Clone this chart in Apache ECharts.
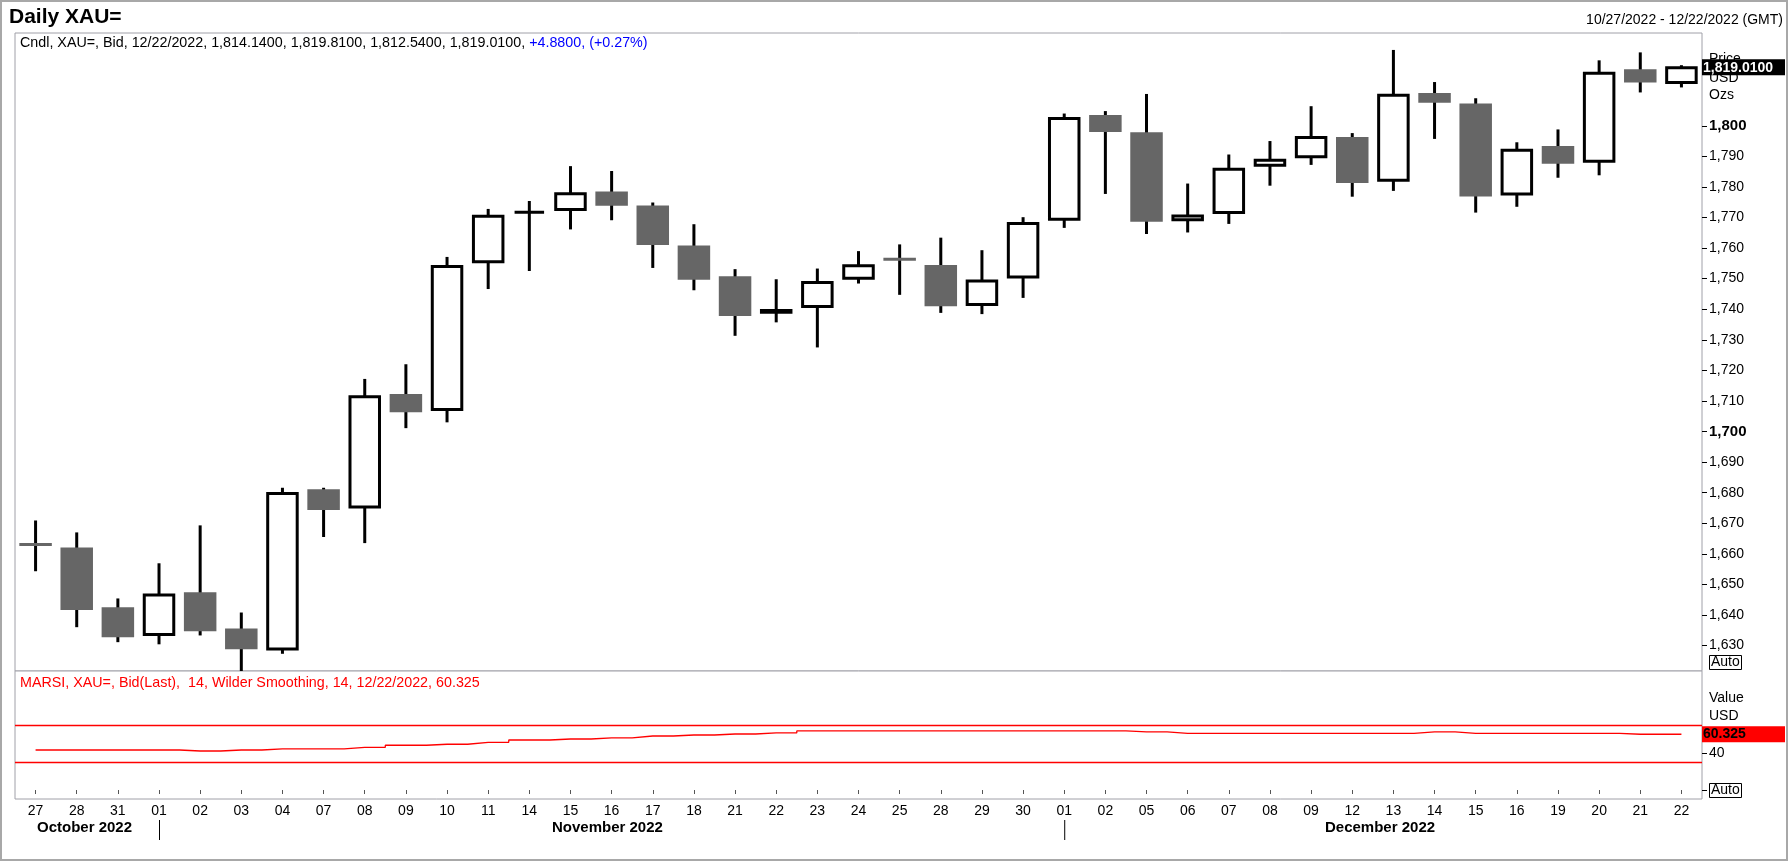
<!DOCTYPE html>
<html>
<head>
<meta charset="utf-8">
<script src="https://cdn.jsdelivr.net/npm/echarts@6/dist/echarts.min.js"></script>
<style>
  html, body { margin: 0; padding: 0; background: #fff; }
  #chart { width: 1788px; height: 862px; }
</style>
</head>
<body>
<div id="chart"></div>
<script>
// daily gold candles, 27 Oct - 22 Dec 2022
var days = ['27','28','31','01','02','03','04','07','08','09','10','11','14','15','16','17','18','21','22','23','24','25',
            '28','29','30','01','02','05','06','07','08','09','12','13','14','15','16','19','20','21','22'];
var monthNames = ['October 2022', 'November 2022', 'December 2022'];
var monthFirstIdx = [0, 3, 25];

var opens  = [1663.2,1662.1,1642.5,1633.6,1647.4,1635.6,1628.9,1681.1,1675.3,1712.3,1707.2,1755.5,1771.7,1772.6,1778.5,1773.9,1760.8,1750.8,1739.0,1740.9,1750.1,1756.4,
              1754.5,1741.5,1750.5,1769.4,1803.5,1797.9,1769.3,1771.6,1787.1,1789.9,1796.3,1782.2,1810.7,1807.3,1777.7,1793.4,1788.4,1818.5,1814.14];
var highs  = [1670.9,1667.0,1645.4,1656.9,1669.3,1640.8,1681.6,1681.6,1717.2,1722.0,1757.1,1772.8,1775.4,1786.8,1785.2,1774.9,1767.8,1753.1,1749.8,1753.3,1759.0,1761.2,
              1763.4,1759.3,1770.1,1804.0,1804.8,1810.4,1781.1,1790.6,1795.0,1806.4,1797.6,1824.8,1814.3,1809.0,1794.6,1798.8,1821.4,1824.0,1819.81];
var lows   = [1654.3,1636.0,1631.1,1630.4,1633.3,1620.5,1627.3,1665.5,1663.5,1701.1,1703.0,1746.6,1752.5,1766.1,1769.1,1753.5,1746.2,1731.3,1735.7,1727.5,1748.4,1744.7,
              1738.8,1738.4,1743.7,1766.6,1777.7,1764.6,1765.1,1767.9,1780.4,1787.2,1776.8,1778.7,1795.7,1771.6,1773.5,1783.0,1783.8,1810.9,1812.54];
var closes = [1662.9,1641.6,1632.7,1646.5,1634.7,1628.8,1679.7,1674.3,1711.4,1706.3,1754.0,1770.4,1771.7,1777.8,1773.8,1761.0,1749.6,1737.8,1739.6,1748.7,1754.2,1756.2,
              1741.0,1749.2,1768.0,1802.4,1798.0,1768.6,1770.5,1785.8,1788.7,1796.2,1781.3,1810.0,1807.5,1776.9,1792.0,1787.6,1817.2,1814.13,1819.01];

// moving average RSI (14, Wilder)
var rsi = [43.3,43.3,43.3,43.3,42.2,43.3,44.4,44.4,46.2,48.4,49.5,51.6,54.1,55.2,56.3,58.4,59.5,60.6,61.7,63.9,63.9,63.9,
           63.9,63.9,63.9,63.9,63.9,62.8,61.3,61.3,61.3,61.3,61.3,61.3,62.8,61.3,61.3,61.3,61.3,60.3,60.325];
var rsiBands = [70, 30];

var priceTicks = [1630,1640,1650,1660,1670,1680,1690,1700,1710,1720,1730,1740,1750,1760,1770,1780,1790,1800];
var rsiLabelTicks = [40];
var rsiTickMarks = [0, 40];

var FONT = '"Liberation Sans", Arial, sans-serif';
var GRAY = '#666666';
var FRAME = '#a0a0a8';

var candleData = days.map(function (d, i) {
  return [i, opens[i], closes[i], lows[i], highs[i]];
});

function fmt(v) {
  return v.toLocaleString('en-US');
}

function renderCandle(params, api) {
  var i = api.value(0);
  var o = api.value(1), c = api.value(2), l = api.value(3), h = api.value(4);
  var pO = api.coord([i, o]), pC = api.coord([i, c]);
  var pH = api.coord([i, h]), pL = api.coord([i, l]);
  var w = api.size([1, 0])[0] * 0.79;
  var x = pO[0];
  var top = Math.min(pO[1], pC[1]), bot = Math.max(pO[1], pC[1]);
  var kids = [{
    type: 'line',
    shape: { x1: x, y1: pH[1], x2: x, y2: pL[1] },
    style: { stroke: '#000', lineWidth: 3 }
  }];
  if (c >= o) {
    kids.push({
      type: 'rect',
      shape: { x: x - w / 2 + 1.5, y: top, width: w - 3, height: bot - top },
      style: { fill: '#fff', stroke: '#000', lineWidth: 3 }
    });
  } else if (bot - top < 2) {
    var ym = (top + bot) / 2;
    kids.push({
      type: 'line',
      shape: { x1: x - w / 2, y1: ym, x2: x + w / 2, y2: ym },
      style: { stroke: GRAY, lineWidth: 3 }
    });
  } else {
    kids.push({
      type: 'rect',
      shape: { x: x - w / 2, y: top, width: w, height: bot - top },
      style: { fill: GRAY }
    });
  }
  return { type: 'group', children: kids };
}

var chart = echarts.init(document.getElementById('chart'));

var option = {
  animation: false,
  grid: [
    { left: 15, right: 86, top: 33, height: 638, show: true, borderColor: FRAME, borderWidth: 1, backgroundColor: '#fff' },
    { left: 15, right: 86, top: 671, height: 128, show: true, borderColor: FRAME, borderWidth: 1, backgroundColor: '#fff' }
  ],
  xAxis: [
    {
      type: 'category', gridIndex: 0, data: days, boundaryGap: true,
      axisLine: { show: false }, axisTick: { show: false }, axisLabel: { show: false }, splitLine: { show: false }
    },
    {
      type: 'category', gridIndex: 1, data: days, boundaryGap: true,
      axisLine: { show: false },
      axisTick: { show: true, alignWithLabel: true, length: 4, lineStyle: { color: '#555' } },
      axisLabel: { interval: 0, margin: 5, color: '#000', fontSize: 14, fontFamily: FONT },
      splitLine: { show: false }
    }
  ],
  yAxis: [
    {
      type: 'value', gridIndex: 0, position: 'right', min: 1621.67, max: 1830.34, scale: true,
      axisLine: { show: false },
      axisTick: { show: true, length: 5, customValues: priceTicks, lineStyle: { color: '#000' } },
      axisLabel: {
        customValues: priceTicks, margin: 7, color: '#000', fontSize: 14, fontFamily: FONT,
        formatter: function (v) {
          var s = fmt(v);
          return v % 100 === 0 ? '{b|' + s + '}' : s;
        },
        rich: { b: { fontWeight: 'bold', fontSize: 15, fontFamily: FONT, color: '#000' } }
      },
      splitLine: { show: false }
    },
    {
      type: 'value', gridIndex: 1, position: 'right', min: -9.7, max: 128.7,
      axisLine: { show: false },
      axisTick: { show: true, length: 5, customValues: rsiTickMarks, lineStyle: { color: '#000' } },
      axisLabel: { customValues: rsiLabelTicks, margin: 7, color: '#000', fontSize: 14, fontFamily: FONT },
      splitLine: { show: false }
    }
  ],
  series: [
    {
      type: 'custom',
      name: 'XAU=',
      xAxisIndex: 0, yAxisIndex: 0,
      clip: true,
      renderItem: renderCandle,
      encode: { x: 0, y: [1, 2, 3, 4] },
      data: candleData
    },
    {
      type: 'line',
      name: 'MARSI',
      xAxisIndex: 1, yAxisIndex: 1,
      data: rsi,
      step: 'middle',
      symbol: 'none',
      lineStyle: { color: '#ff0000', width: 1.3 },
      markLine: {
        silent: true,
        symbol: 'none',
        label: { show: false },
        lineStyle: { color: '#ff0000', width: 1.3, type: 'solid' },
        data: rsiBands.map(function (b) { return { yAxis: b }; })
      }
    }
  ]
};
chart.setOption(option);

// overlay texts placed from the axes
var lastIdx = closes.length - 1;
var yLast = chart.convertToPixel({ yAxisIndex: 0 }, closes[lastIdx]);
var yRsi = chart.convertToPixel({ yAxisIndex: 1 }, rsi[lastIdx]);

var g = [
  { type: 'rect', shape: { x: 1, y: 1, width: 1786, height: 859 }, style: { fill: 'none', stroke: '#a8a8a8', lineWidth: 2 }, z: 100 },
  { type: 'text', x: 9, y: 7, style: { text: 'Daily XAU=', font: 'bold 21px ' + FONT, fill: '#000' } },
  { type: 'text', x: 1783, y: 13, style: { text: '10/27/2022 - 12/22/2022 (GMT)', font: '14px ' + FONT, fill: '#000', align: 'right' } },
  {
    type: 'text', x: 20, y: 36, z: 10,
    style: {
      text: '{k|Cndl, XAU=, Bid, 12/22/2022, 1,814.1400, 1,819.8100, 1,812.5400, 1,819.0100, }{u|+4.8800, (+0.27%)}',
      rich: {
        k: { font: '14.3px ' + FONT, fill: '#000' },
        u: { font: '14.3px ' + FONT, fill: '#0000ff' }
      }
    }
  },
  { type: 'text', x: 20, y: 676, z: 10, style: { text: 'MARSI, XAU=, Bid(Last),  14, Wilder Smoothing, 14, 12/22/2022, 60.325', font: '14.3px ' + FONT, fill: '#ff0000' } },
  // price axis captions
  { type: 'text', x: 1709, y: 52, style: { text: 'Price', font: '14px ' + FONT, fill: '#000' } },
  { type: 'text', x: 1709, y: 71, style: { text: 'USD', font: '14px ' + FONT, fill: '#000' } },
  { type: 'text', x: 1709, y: 88, style: { text: 'Ozs', font: '14px ' + FONT, fill: '#000' } },
  { type: 'rect', shape: { x: 1702, y: yLast - 8.5, width: 83, height: 16 }, style: { fill: '#000' }, z: 20 },
  { type: 'text', x: 1703, y: yLast, z: 21, style: { text: closes[lastIdx].toLocaleString('en-US', { minimumFractionDigits: 4 }), font: 'bold 14px ' + FONT, fill: '#fff', verticalAlign: 'middle' } },
  { type: 'rect', shape: { x: 1709.5, y: 655.5, width: 32, height: 14 }, style: { fill: '#fff', stroke: '#000', lineWidth: 1 } },
  { type: 'text', x: 1711, y: 662.5, style: { text: 'Auto', font: '14px ' + FONT, fill: '#000', verticalAlign: 'middle' } },
  // rsi axis captions
  { type: 'text', x: 1709, y: 691, style: { text: 'Value', font: '14px ' + FONT, fill: '#000' } },
  { type: 'text', x: 1709, y: 709, style: { text: 'USD', font: '14px ' + FONT, fill: '#000' } },
  { type: 'rect', shape: { x: 1702, y: yRsi - 8, width: 83, height: 16 }, style: { fill: '#ff0000' }, z: 20 },
  { type: 'text', x: 1703, y: yRsi, z: 21, style: { text: rsi[lastIdx].toFixed(3), font: 'bold 14px ' + FONT, fill: '#000', verticalAlign: 'middle' } },
  { type: 'rect', shape: { x: 1709.5, y: 783.5, width: 32, height: 14 }, style: { fill: '#fff', stroke: '#000', lineWidth: 1 }, z: 20 },
  { type: 'text', x: 1711, y: 790.5, z: 21, style: { text: 'Auto', font: '14px ' + FONT, fill: '#000', verticalAlign: 'middle' } }
];

// month captions and separators under the day labels
var monthTextX = [37, 552, 1325];
monthNames.forEach(function (m, k) {
  g.push({ type: 'text', x: monthTextX[k], y: 820, style: { text: m, font: 'bold 15px ' + FONT, fill: '#000' } });
  if (k > 0) {
    var xs = chart.convertToPixel({ xAxisIndex: 1 }, monthFirstIdx[k]);
    g.push({ type: 'line', shape: { x1: xs + 0.5, y1: 820, x2: xs + 0.5, y2: 840 }, style: { stroke: '#000', lineWidth: 1 } });
  }
});

chart.setOption({ graphic: g });
</script>
</body>
</html>
